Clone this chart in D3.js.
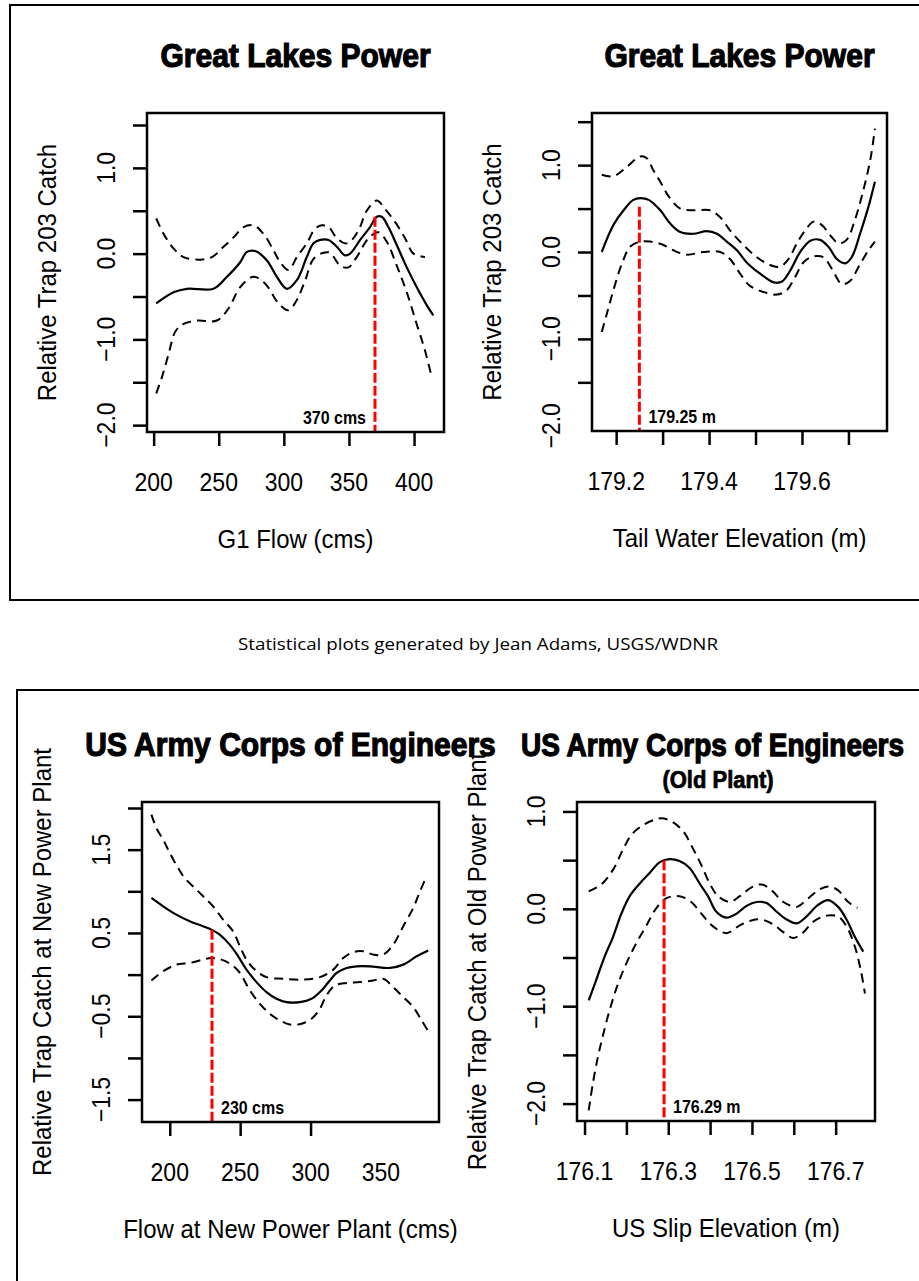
<!DOCTYPE html>
<html>
<head>
<meta charset="utf-8">
<script src="https://cdn.jsdelivr.net/npm/d3@7"></script>
<style>
  body { margin: 0; background: #fff; }
  svg { display: block; }
  text { font-family: "Liberation Sans", Arial, sans-serif; fill: #000; }
</style>
</head>
<body>
<div id="chart"></div>
<script>
// ---- data ----

// Great Lakes Power, G1 flow (cms)
const glFlowXLim = [194.9, 423.0];
const glFlowYLim = [-2.08, 1.64];
const glFlowXTicks = [200, 250, 300, 350, 400];
const glFlowXLabels = [200, 250, 300, 350, 400];
const glFlowYTicks = [-2, -1.5, -1, -0.5, 0, 0.5, 1, 1.5];
const glFlowYLabels = [-2, -1, 0, 1];
const glFlowFit = [[202,-0.58],[215.3,-0.45],[225.6,-0.41],[246,-0.41],[256.3,-0.27],[266.5,-0.10],[271.6,0.02],[278,0.03],[287,-0.08],[294.6,-0.27],[302.3,-0.41],[310,-0.31],[317.6,-0.04],[322.8,0.12],[327.9,0.16],[334.3,0.16],[340.7,0.08],[347,-0.02],[350.9,0],[358.6,0.16],[366.2,0.31],[371.4,0.43],[375.2,0.43],[380.3,0.31],[386.7,0.10],[394.4,-0.16],[402,-0.39],[409.7,-0.60],[414.8,-0.72]];
const glFlowUpper = [[202,0.41],[207.7,0.23],[215.3,0.06],[223,-0.04],[235.8,-0.07],[244.8,-0.04],[253.7,0.08],[261.4,0.19],[269,0.31],[276.7,0.33],[284.4,0.23],[292,0.04],[297.2,-0.10],[303.6,-0.19],[310,-0.04],[317.6,0.12],[324,0.29],[329.2,0.33],[334.3,0.31],[340.7,0.18],[347,0.12],[350.9,0.14],[357.3,0.27],[363.7,0.50],[371.4,0.62],[377.7,0.52],[385.4,0.37],[393.1,0.18],[399.5,0],[408.4,-0.04]];
const glFlowLower = [[202,-1.63],[206.4,-1.44],[211.5,-1.17],[216.6,-0.91],[223,-0.82],[233.2,-0.78],[248.6,-0.78],[257.5,-0.64],[266.5,-0.39],[276.7,-0.27],[285.7,-0.35],[295.9,-0.58],[303.6,-0.66],[310,-0.54],[316.4,-0.31],[322.8,-0.06],[330.4,0.01],[335.5,0.01],[343.2,-0.14],[349.6,-0.16],[356,-0.04],[365,0.18],[372.6,0.25],[379,0.14],[386.7,-0.14],[394.4,-0.45],[402,-0.82],[408.4,-1.13],[413.6,-1.44]];
const glFlowMark = { x: 370, y: 0.43, label: "370 cms" };

// Great Lakes Power, tail water elevation (m)
const glTailXLim = [179.148, 179.783];
const glTailYLim = [-2.06, 1.60];
const glTailXTicks = [179.2, 179.3, 179.4, 179.5, 179.6, 179.7];
const glTailXLabels = [179.2, 179.4, 179.6];
const glTailYTicks = [-1.5, -1, -0.5, 0, 0.5, 1, 1.5];
const glTailYLabels = [-2, -1, 0, 1];
const glTailFit = [[179.169,0.0],[179.194,0.31],[179.216,0.48],[179.237,0.60],[179.252,0.62],[179.270,0.60],[179.295,0.48],[179.316,0.33],[179.338,0.23],[179.366,0.21],[179.395,0.24],[179.417,0.21],[179.438,0.12],[179.460,0.02],[179.481,-0.12],[179.510,-0.25],[179.539,-0.35],[179.557,-0.34],[179.575,-0.21],[179.596,0],[179.618,0.13],[179.639,0.14],[179.657,0.06],[179.675,-0.08],[179.693,-0.13],[179.707,-0.06],[179.725,0.21],[179.743,0.52],[179.757,0.81]];
const glTailUpper = [[179.169,0.89],[179.194,0.87],[179.223,0.98],[179.252,1.10],[179.266,1.08],[179.280,0.94],[179.295,0.81],[179.313,0.64],[179.338,0.50],[179.366,0.48],[179.402,0.48],[179.424,0.40],[179.445,0.25],[179.474,0.08],[179.503,-0.06],[179.531,-0.15],[179.553,-0.17],[179.571,-0.08],[179.589,0.10],[179.607,0.25],[179.625,0.35],[179.643,0.31],[179.661,0.19],[179.679,0.10],[179.696,0.14],[179.714,0.37],[179.732,0.71],[179.747,1.06],[179.757,1.42]];
const glTailLower = [[179.169,-0.92],[179.180,-0.71],[179.194,-0.44],[179.212,-0.14],[179.230,0.06],[179.252,0.12],[179.273,0.12],[179.298,0.09],[179.323,0.02],[179.352,-0.03],[179.388,0],[179.424,0],[179.445,-0.08],[179.467,-0.25],[179.488,-0.39],[179.517,-0.46],[179.546,-0.49],[179.567,-0.44],[179.585,-0.29],[179.603,-0.12],[179.625,-0.05],[179.646,-0.06],[179.664,-0.19],[179.686,-0.37],[179.704,-0.33],[179.722,-0.17],[179.743,0.02],[179.757,0.12]];
const glTailMark = { x: 179.25, y: 0.52, label: "179.25 m" };

// US Army Corps of Engineers, flow at new power plant (cms)
const ceFlowXLim = [180.3, 391.2];
const ceFlowYLim = [-1.769, 2.072];
const ceFlowXTicks = [200, 250, 300];
const ceFlowXLabels = [200, 250, 300, 350];
const ceFlowYTicks = [-1.5, -1, -0.5, 0, 0.5, 1, 1.5, 2];
const ceFlowYLabels = [-1.5, -0.5, 0.5, 1.5];
const ceFlowFit = [[187,0.92],[195.3,0.82],[204.7,0.72],[214.2,0.64],[223.7,0.58],[229.6,0.54],[235.5,0.48],[242.6,0.36],[248.6,0.22],[254.5,0.06],[261.6,-0.09],[268.7,-0.21],[275.8,-0.29],[282.9,-0.33],[292.4,-0.33],[300.7,-0.29],[307.8,-0.19],[313.7,-0.07],[318.5,0.02],[325.6,0.08],[332.7,0.10],[342.1,0.10],[356.4,0.08],[365.8,0.12],[375.3,0.22],[383.6,0.29]];
const ceFlowUpper = [[187,1.92],[190.5,1.76],[195.3,1.62],[200,1.46],[205.9,1.28],[210.6,1.16],[217.8,1.04],[223.7,0.94],[230.8,0.82],[237.9,0.66],[245,0.52],[249.8,0.34],[254.5,0.18],[260.4,0.06],[268.7,-0.03],[280.5,-0.05],[294.8,-0.06],[306.6,-0.03],[316.1,0.06],[323.2,0.20],[330.3,0.27],[337.4,0.28],[344.5,0.24],[351.6,0.24],[358.7,0.36],[365.8,0.58],[372.9,0.80],[377.7,1.00],[382.4,1.18]];
const ceFlowLower = [[187,-0.07],[195.3,0.04],[204.7,0.12],[214.2,0.14],[223.7,0.18],[229.6,0.20],[236.7,0.18],[243.8,0.12],[249.8,0.02],[256.9,-0.19],[264,-0.35],[271.1,-0.47],[278.2,-0.55],[285.3,-0.60],[293.6,-0.59],[300.7,-0.53],[306.6,-0.41],[311.3,-0.25],[317.3,-0.13],[325.6,-0.10],[335,-0.09],[344.5,-0.07],[351.6,-0.05],[358.7,-0.15],[365.8,-0.27],[372.9,-0.39],[378.9,-0.55],[383.6,-0.68]];
const ceFlowMark = { x: 230, y: 0.54, label: "230 cms" };

// US Army Corps of Engineers (old plant), US slip elevation (m)
const ceSlipXLim = [176.082, 176.794];
const ceSlipYLim = [-2.179, 1.097];
const ceSlipXTicks = [176.1, 176.2, 176.3, 176.4, 176.5, 176.6, 176.7];
const ceSlipXLabels = [176.1, 176.3, 176.5, 176.7];
const ceSlipYTicks = [-2, -1.5, -1, -0.5, 0, 0.5, 1];
const ceSlipYLabels = [-2, -1, 0, 1];
const ceSlipFit = [[176.110,-0.94],[176.128,-0.73],[176.148,-0.49],[176.168,-0.29],[176.188,-0.05],[176.208,0.13],[176.232,0.26],[176.256,0.37],[176.280,0.48],[176.303,0.51],[176.327,0.49],[176.351,0.42],[176.375,0.26],[176.395,0.13],[176.415,-0.03],[176.439,-0.09],[176.463,-0.05],[176.487,0.03],[176.511,0.07],[176.535,0.06],[176.559,-0.03],[176.583,-0.11],[176.607,-0.15],[176.630,-0.08],[176.658,0.04],[176.682,0.09],[176.706,0.02],[176.726,-0.11],[176.746,-0.29],[176.766,-0.44]];
const ceSlipUpper = [[176.110,0.18],[176.140,0.25],[176.168,0.40],[176.192,0.61],[176.212,0.76],[176.236,0.85],[176.264,0.91],[176.283,0.93],[176.307,0.90],[176.335,0.80],[176.359,0.62],[176.379,0.45],[176.399,0.26],[176.419,0.13],[176.447,0.07],[176.471,0.13],[176.499,0.22],[176.523,0.25],[176.547,0.19],[176.575,0.07],[176.607,0.02],[176.630,0.09],[176.658,0.19],[176.682,0.23],[176.706,0.19],[176.730,0.07],[176.752,0.01]];
const ceSlipLower = [[176.110,-2.07],[176.120,-1.79],[176.132,-1.52],[176.144,-1.30],[176.160,-1.04],[176.180,-0.77],[176.200,-0.56],[176.224,-0.35],[176.248,-0.17],[176.272,0.01],[176.296,0.11],[176.327,0.13],[176.355,0.07],[176.379,-0.05],[176.407,-0.18],[176.439,-0.25],[176.471,-0.17],[176.499,-0.12],[176.523,-0.11],[176.551,-0.16],[176.575,-0.24],[176.599,-0.30],[176.623,-0.24],[176.647,-0.13],[176.678,-0.07],[176.706,-0.08],[176.726,-0.18],[176.746,-0.39],[176.760,-0.63],[176.770,-0.87]];
const ceSlipMark = { x: 176.29, y: 0.50, label: "176.29 m" };

const titles = ["Great Lakes Power", "Great Lakes Power", "US Army Corps of Engineers", "US Army Corps of Engineers"];
const xTitles = ["G1 Flow (cms)", "Tail Water Elevation (m)", "Flow at New Power Plant (cms)", "US Slip Elevation (m)"];
const yTitles = ["Relative Trap 203 Catch", "Relative Trap 203 Catch", "Relative Trap Catch at New Power Plant", "Relative Trap Catch at Old Power Plant"];
const caption = "Statistical plots generated by Jean Adams, USGS/WDNR";

// ---- layout ----
const W = 919, H = 1281;
const stretch = 1.12;   // the scanned lettering is taller than Arial

const svg = d3.select("#chart").append("svg")
  .attr("width", W)
  .attr("height", H);

// centred text with optional rotation, stretched vertically in its own frame
function label(parent, x, y, str, size, opts) {
  opts = opts || {};
  const t = parent.append("text")
    .attr("transform", `translate(${x},${y}) rotate(${opts.rotate || 0}) scale(1,${opts.sy || stretch})`)
    .attr("text-anchor", opts.anchor || "middle")
    .attr("dominant-baseline", "central")
    .style("font-size", size + "px")
    .text(str);
  if (opts.bold) t.style("font-weight", "bold");
  if (opts.heavy) t.attr("stroke", "#000").attr("stroke-width", opts.heavy);
  if (opts.fit) t.attr("textLength", opts.fit).attr("lengthAdjust", "spacingAndGlyphs");
  return t;
}

// outer frames (they run off the right edge, as in the scan)
svg.append("rect").attr("x", 10).attr("y", 5).attr("width", 1000).attr("height", 595)
  .attr("fill", "none").attr("stroke", "#000").attr("stroke-width", 2);
svg.append("rect").attr("x", 17).attr("y", 690).attr("width", 1000).attr("height", 700)
  .attr("fill", "none").attr("stroke", "#000").attr("stroke-width", 2);

label(svg, 478, 643, caption, 17, { sy: 1, fit: 480 })
  .style("font-family", "'Open Sans', 'Noto Sans', sans-serif");

const panels = [
  { box: [147, 113, 297, 319], xLim: glFlowXLim, yLim: glFlowYLim, xTicks: glFlowXTicks, xLabels: glFlowXLabels, xFmt: d3.format("d"),
    yTicks: glFlowYTicks, yLabels: glFlowYLabels, yFmt: d3.format(".1f"), fit: glFlowFit, upper: glFlowUpper, lower: glFlowLower, mark: glFlowMark, markSide: "left" },
  { box: [592, 113, 295, 318], xLim: glTailXLim, yLim: glTailYLim, xTicks: glTailXTicks, xLabels: glTailXLabels, xFmt: d3.format(".1f"),
    yTicks: glTailYTicks, yLabels: glTailYLabels, yFmt: d3.format(".1f"), fit: glTailFit, upper: glTailUpper, lower: glTailLower, mark: glTailMark, markSide: "right" },
  { box: [142, 802, 297, 320], xLim: ceFlowXLim, yLim: ceFlowYLim, xTicks: ceFlowXTicks, xLabels: ceFlowXLabels, xFmt: d3.format("d"),
    yTicks: ceFlowYTicks, yLabels: ceFlowYLabels, yFmt: d3.format(".1f"), fit: ceFlowFit, upper: ceFlowUpper, lower: ceFlowLower, mark: ceFlowMark, markSide: "right" },
  { box: [577, 802, 298, 319], xLim: ceSlipXLim, yLim: ceSlipYLim, xTicks: ceSlipXTicks, xLabels: ceSlipXLabels, xFmt: d3.format(".1f"),
    yTicks: ceSlipYTicks, yLabels: ceSlipYLabels, yFmt: d3.format(".1f"), fit: ceSlipFit, upper: ceSlipUpper, lower: ceSlipLower, mark: ceSlipMark, markSide: "right",
    subtitle: "(Old Plant)", titleLeft: 521, titleSize: 28 }
];

// y axis titles first, so the titles sit on top of them where they overlap
panels.forEach(function (p, i) {
  const [bx, by, bw, bh] = p.box;
  label(svg, bx - 100, by + bh / 2, yTitles[i], 24, { rotate: -90, sy: 1.08 });
});

panels.forEach(function (p, i) {
  const [bx, by, bw, bh] = p.box;
  const x = d3.scaleLinear().domain(p.xLim).range([bx, bx + bw]);
  const y = d3.scaleLinear().domain(p.yLim).range([by + bh, by]);
  const g = svg.append("g");

  // tick marks
  const xAxis = g.append("g")
    .attr("transform", `translate(0,${by + bh})`)
    .call(d3.axisBottom(x).tickValues(p.xTicks).tickSize(14).tickFormat(""));
  const yAxis = g.append("g")
    .attr("transform", `translate(${bx},0)`)
    .call(d3.axisLeft(y).tickValues(p.yTicks).tickSize(14).tickFormat(""));
  [xAxis, yAxis].forEach(function (a) {
    a.select(".domain").remove();
    a.selectAll(".tick line").attr("stroke", "#000").attr("stroke-width", 2.5);
  });

  // tick labels (R drops the ones that would overlap)
  p.xLabels.forEach(function (d) {
    label(g, x(d), by + bh + 50, p.xFmt(d), 23);
  });
  p.yLabels.forEach(function (d) {
    label(g, bx - 41, y(d), p.yFmt(d), 23, { rotate: -90 });
  });

  // smooth fit and confidence band
  const line = d3.line()
    .x(d => x(d[0]))
    .y(d => y(d[1]))
    .curve(d3.curveCatmullRom.alpha(0.5));

  g.append("path").datum(p.upper).attr("d", line)
    .attr("fill", "none").attr("stroke", "#000").attr("stroke-width", 2).attr("stroke-dasharray", "9,6");
  g.append("path").datum(p.lower).attr("d", line)
    .attr("fill", "none").attr("stroke", "#000").attr("stroke-width", 2).attr("stroke-dasharray", "9,6");
  g.append("path").datum(p.fit).attr("d", line)
    .attr("fill", "none").attr("stroke", "#000").attr("stroke-width", 2.2);

  // red marker at the peak
  g.append("line")
    .attr("x1", x(p.mark.x)).attr("x2", x(p.mark.x))
    .attr("y1", y(p.mark.y)).attr("y2", by + bh)
    .attr("stroke", "#f00").attr("stroke-width", 3).attr("stroke-dasharray", "10,3");
  const left = p.markSide === "left";
  label(g, x(p.mark.x) + (left ? -9 : 9), by + bh - 14, p.mark.label, 16,
    { anchor: left ? "end" : "start", bold: true, sy: 1.1 });

  // plot box
  g.append("rect")
    .attr("x", bx).attr("y", by).attr("width", bw).attr("height", bh)
    .attr("fill", "none").attr("stroke", "#000").attr("stroke-width", 2.5);

  // titles
  label(g, bx + bw / 2, by + bh + 107, xTitles[i], 24, { sy: 1.1 });
  if (p.titleLeft) {
    // right-hand title would run off the page; start it where the scan does and keep it inside
    label(g, p.titleLeft, by - 57, titles[i], p.titleSize, { anchor: "start", bold: true, heavy: 1.1, sy: 1.15 });
  } else {
    label(g, bx + bw / 2, by - 57, titles[i], 30, { bold: true, heavy: 1.1, sy: 1.08 });
  }
  if (p.subtitle) {
    label(g, bx + bw / 2 - 8, by - 22, p.subtitle, 22, { bold: true, heavy: 0.7, sy: 1.05 });
  }
});
</script>
</body>
</html>
